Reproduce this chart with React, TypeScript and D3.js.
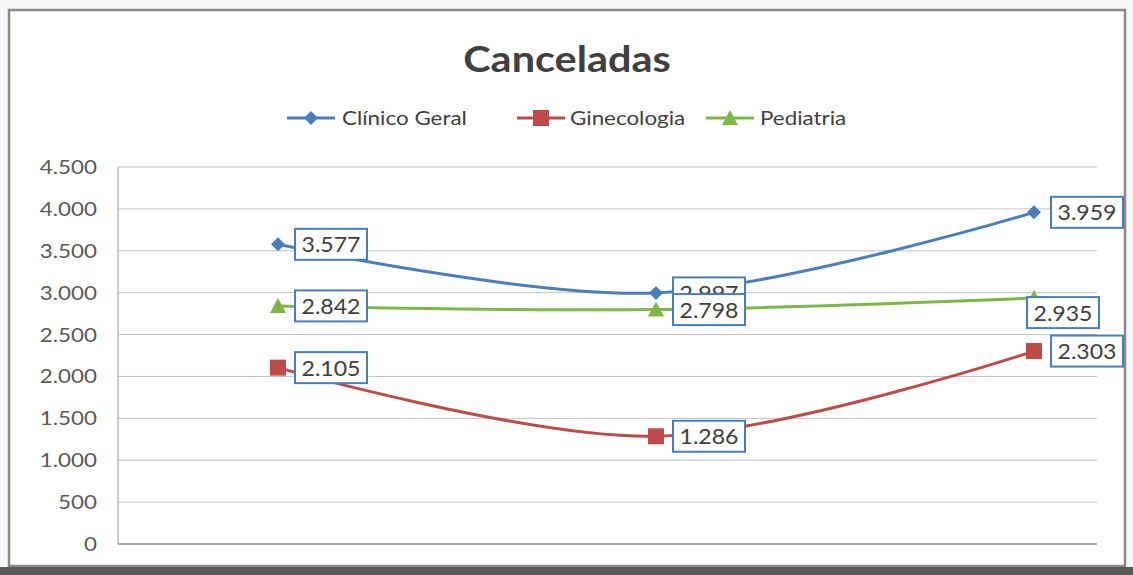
import React from "react";
import * as d3 from "d3";

const categories = ["A", "B", "C"];
const clinicoGeral = [3577, 2997, 3959];
const ginecologia = [2105, 1286, 2303];
const pediatria = [2842, 2798, 2935];
const yTicks = [0, 500, 1000, 1500, 2000, 2500, 3000, 3500, 4000, 4500];

const W = 1133;
const H = 575;
const FONT = "Lato, 'Open Sans', sans-serif";
const TXT = "#404040";

const series = [
  { name: "Clínico Geral", values: clinicoGeral, color: "#4A7EBB", marker: "diamond" },
  { name: "Ginecologia", values: ginecologia, color: "#BE4B48", marker: "square" },
  { name: "Pediatria", values: pediatria, color: "#7DB846", marker: "triangle" },
];

const locale = d3.formatLocale({ decimal: ",", thousands: ".", grouping: [3], currency: ["", ""] });
const fmt = locale.format(",d");

function T({
  x,
  y,
  sx = 1.12,
  anchor = "start",
  size,
  weight = "normal",
  fill = TXT,
  children,
}: {
  x: number;
  y: number;
  sx?: number;
  anchor?: string;
  size: number;
  weight?: string;
  fill?: string;
  children: React.ReactNode;
}) {
  return (
    <text
      transform={`translate(${x},${y}) scale(${sx},1)`}
      textAnchor={anchor}
      fontSize={size}
      fontWeight={weight}
      fill={fill}
    >
      {children}
    </text>
  );
}

function Marker({ type, x, y, color }: { type: string; x: number; y: number; color: string }) {
  if (type === "diamond") {
    const s = 7;
    return <path d={`M${x},${y - s}L${x + s},${y}L${x},${y + s}L${x - s},${y}Z`} fill={color} />;
  }
  if (type === "square") {
    const s = 8;
    return <rect x={x - s} y={y - s} width={2 * s} height={2 * s} fill={color} />;
  }
  const s = 8;
  return <path d={`M${x},${y - s}L${x + s},${y + s - 1}L${x - s},${y + s - 1}Z`} fill={color} />;
}

export default function App() {
  const left = 118;
  const right = 1097;
  const top = 167;
  const bottom = 544;
  const x = d3.scalePoint<string>().domain(categories).range([278, 1034]);
  const y = d3.scaleLinear().domain([0, 4500]).range([bottom, top]);
  const line = d3
    .line<number>()
    .x((_, i) => x(categories[i]) as number)
    .y((d) => y(d))
    .curve(d3.curveCatmullRom.alpha(0.5));

  const boxW = 72;
  const boxH = 31;
  const labelPos = (si: number, i: number, px: number, py: number) => {
    if (si === 2 && i === 2) return { bx: px - 7, by: py - 1 };
    return { bx: px + 17, by: py - boxH / 2 };
  };

  const legendItems = [
    { lx: 287, tx: 342 },
    { lx: 517, tx: 570 },
    { lx: 706, tx: 760 },
  ];

  return (
    <svg
      width={W}
      height={H}
      style={{ position: "absolute", left: 0, top: 0, background: "#ffffff" }}
      fontFamily={FONT}
    >
      <rect x={0} y={0} width={W} height={H} fill="#f7f7f9" />
      <rect x={9} y={10} width={1116} height={556} fill="#ffffff" stroke="#8a8a8a" strokeWidth={2.5} />
      <rect x={0} y={567} width={W} height={8} fill="#5a5a5a" />

      <T x={567} y={72} anchor="middle" size={37} weight="bold">
        Canceladas
      </T>

      {series.map((s, si) => {
        const li = legendItems[si];
        return (
          <g key={s.name}>
            <line x1={li.lx} x2={li.lx + 48} y1={118} y2={118} stroke={s.color} strokeWidth={3} />
            <Marker type={s.marker} x={li.lx + 24} y={118} color={s.color} />
            <T x={li.tx} y={125} size={20}>
              {s.name}
            </T>
          </g>
        );
      })}

      {yTicks.map((t) => (
        <g key={t}>
          {t > 0 && <line x1={left} x2={right} y1={y(t)} y2={y(t)} stroke="#c4c4c4" strokeWidth={1} />}
          <T x={97} y={y(t) + 7} anchor="end" size={20} fill="#595959">
            {fmt(t)}
          </T>
        </g>
      ))}
      <line x1={left} x2={left} y1={top} y2={bottom} stroke="#9a9a9a" strokeWidth={1} />
      <line x1={left} x2={right} y1={bottom} y2={bottom} stroke="#8a8a8a" strokeWidth={1.5} />

      {series.map((s) => (
        <g key={s.name}>
          <path d={line(s.values) || ""} fill="none" stroke={s.color} strokeWidth={3} />
          {s.values.map((v, i) => (
            <Marker key={i} type={s.marker} x={x(categories[i]) as number} y={y(v)} color={s.color} />
          ))}
        </g>
      ))}

      {series.map((s, si) =>
        s.values.map((v, i) => {
          const px = x(categories[i]) as number;
          const py = y(v);
          const { bx, by } = labelPos(si, i, px, py);
          return (
            <g key={`${si}-${i}`}>
              <rect x={bx} y={by} width={boxW} height={boxH} fill="#ffffff" stroke="#4A7EBB" strokeWidth={2} />
              <T x={bx + boxW / 2} y={by + boxH / 2 + 8} anchor="middle" size={21} sx={1.1}>
                {fmt(v)}
              </T>
            </g>
          );
        })
      )}
    </svg>
  );
}
